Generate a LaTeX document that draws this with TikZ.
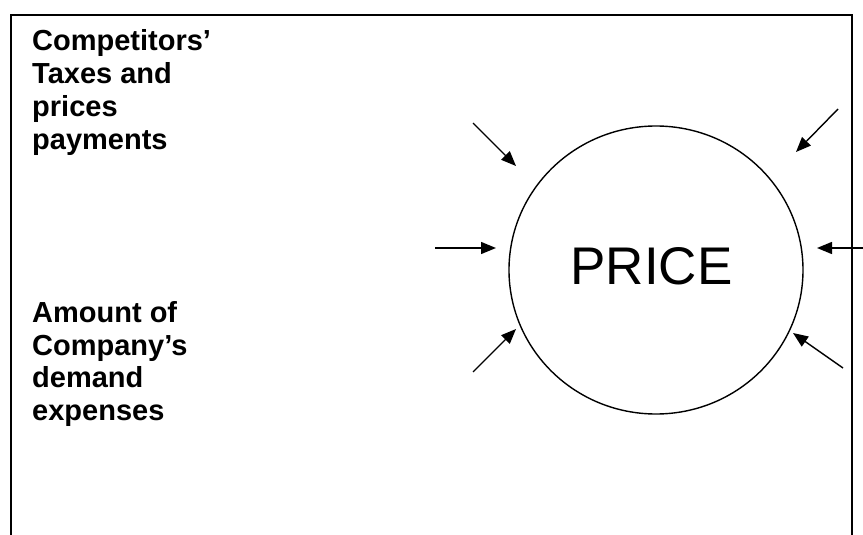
\documentclass[tikz,border=0pt]{standalone}
\usepackage{fontspec}
\setmainfont{Liberation Sans}
\usetikzlibrary{arrows.meta,shapes.geometric}
\tikzset{
  frameline/.style={line width=2pt, line cap=rect},
  factor/.style={font=\bfseries\fontsize{29}{32.8}\selectfont, align=left, anchor=north west, inner sep=0pt},
  pricebox/.style={draw, ellipse, line width=1.4pt, minimum width=294pt, minimum height=288pt, inner sep=0pt},
  pricetext/.style={font=\fontsize{53}{60}\selectfont, inner sep=0pt},
  push/.style={line width=1.4pt, -{Triangle[length=15pt,width=12pt]}}
}
\begin{document}
\begin{tikzpicture}[x=1pt, y=-1pt]
\useasboundingbox (0,0) rectangle (863,535);
\begin{scope}
\clip (0,0) rectangle (863,535);
% open-bottomed frame
\draw[frameline] (11,545) -- (11,15) -- (852,15) -- (852,545);

% labels on the left
\node[factor] (upper) at (32,29.5) {Competitors'\\Taxes and\\prices\\payments};
\node[factor] (lower) at (32,301) {Amount of\\Company's\\demand\\expenses};

% central circle
\node[pricebox] (price) at (656,270) {};
\node[pricetext] (pricelabel) at ([shift={(-4.5,-4)}]price.center) {PRICE};

% arrow end points
\coordinate (tlS) at (473,123);  \coordinate (tlE) at (516,166);
\coordinate (lS)  at (435,248);  \coordinate (lE)  at (496,248);
\coordinate (blS) at (473,372);  \coordinate (blE) at (516,329);
\coordinate (trS) at (838,109);  \coordinate (trE) at (796,152);
\coordinate (rS)  at (866,248);  \coordinate (rE)  at (817,248);
\coordinate (brS) at (843,368);  \coordinate (brE) at (793,333);

\draw[push] (tlS) -- (tlE);
\draw[push] (lS)  -- (lE);
\draw[push] (blS) -- (blE);
\draw[push] (trS) -- (trE);
\draw[push] (rS)  -- (rE);
\draw[push] (brS) -- (brE);
\end{scope}
\end{tikzpicture}
\end{document}
